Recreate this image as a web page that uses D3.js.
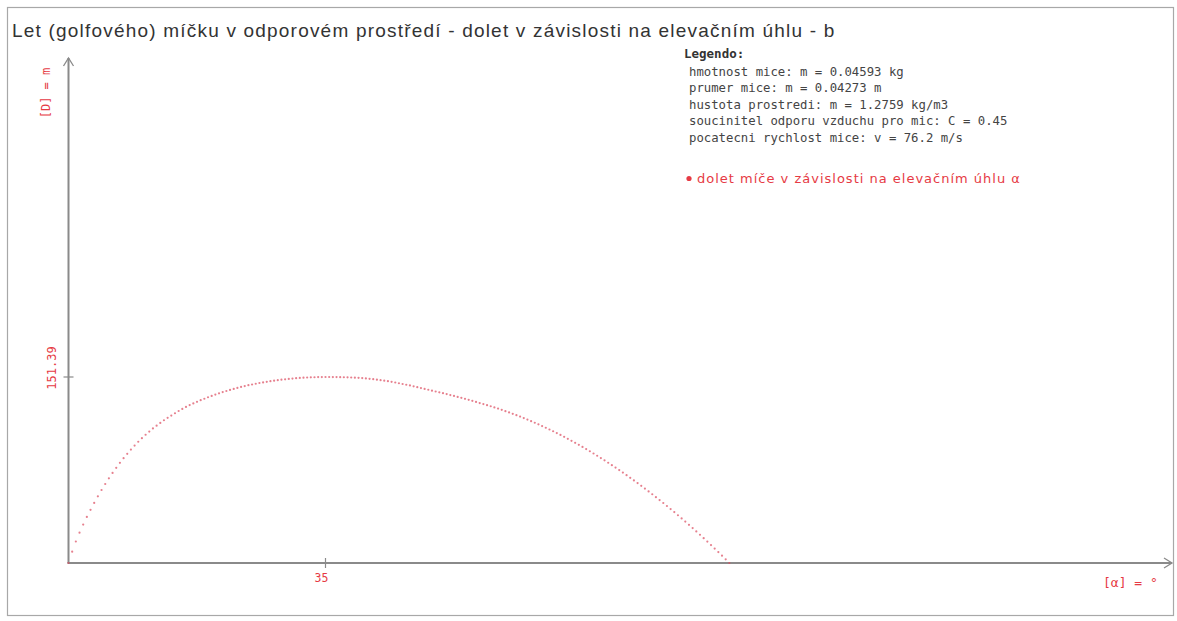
<!DOCTYPE html>
<html>
<head>
<meta charset="utf-8">
<script src="https://cdn.jsdelivr.net/npm/d3@7"></script>
<style>
  html, body { margin: 0; padding: 0; background: #fff; }
  svg { display: block; }
</style>
</head>
<body>
<script>
// Elevation angle grid (degrees), half-degree step
const angles = d3.range(0, 90.5, 0.5);

// Range of the ball D [m] for each elevation angle
const ranges = [
  // 0 .. 14
  0, 9.2, 17.5, 24.7, 31.3, 37.5, 43.3, 48.9, 54.3, 59.4,
  64.3, 68.9, 73.3, 77.5, 81.5, 85.3, 88.9, 92.3, 95.6, 98.7,
  101.6, 104.4, 107.0, 109.5, 111.8, 114.0, 116.2, 118.2, 120.0,
  // 14.5 .. 25
  121.9, 123.7, 125.4, 127.0, 128.5, 129.9, 131.2, 132.5, 133.7, 134.9,
  136.0, 137.1, 138.1, 139.1, 140.0, 140.9, 141.7, 142.5, 143.3, 144.0,
  144.7, 145.3,
  // 25.5 .. 35
  145.9, 146.5, 147.0, 147.5, 148.0, 148.4, 148.8, 149.2, 149.5, 149.8,
  150.1, 150.4, 150.6, 150.8, 151.0, 151.1, 151.2, 151.3, 151.36, 151.39,
  // 35.5 .. 56
  151.38, 151.35, 151.31, 151.25, 151.18, 151.10, 150.98, 150.85, 150.68, 150.5,
  150.2, 149.9, 149.6, 149.2, 148.8, 148.4, 148.0, 147.5, 146.9, 146.3,
  145.7, 145.1, 144.5, 143.8, 143.1, 142.4, 141.7, 141.0, 140.3, 139.6,
  138.9, 138.2, 137.5, 136.7, 136.0, 135.2, 134.4, 133.6, 132.8, 132.0,
  131.1, 130.2,
  // 56.5 .. 90
  129.35, 128.48, 127.57, 126.63, 125.65, 124.65, 123.61, 122.54, 121.44, 120.31,
  119.14, 117.94, 116.71, 115.45, 114.16, 112.84, 111.48, 110.09, 108.67, 107.22,
  105.74, 104.22, 102.67, 101.09, 99.48, 97.84, 96.16, 94.46, 92.72, 90.95,
  89.14, 87.31, 85.44, 83.54, 81.61, 79.65, 77.65, 75.63, 73.57, 71.48,
  69.36, 67.20, 65.02, 62.80, 60.55, 58.27, 55.96, 53.61, 51.23, 48.83,
  46.38, 43.91, 41.41, 38.87, 36.30, 33.70, 31.07, 28.40, 25.71, 22.98,
  20.22, 17.43, 14.60, 11.75, 8.86, 5.94, 2.99, 0
];

// Marked ticks
const xTicks = [35];
const yTicks = [151.39];
const yTickLabels = ["151.39"];

// Texts
const titleText = "Let (golfového) míčku v odporovém prostředí - dolet v závislosti na elevačním úhlu - b";
const legendHead = "Legendo:";
const legendLines = [
  "hmotnost mice: m = 0.04593 kg",
  "prumer mice: m = 0.04273 m",
  "hustota prostredi: m = 1.2759 kg/m3",
  "soucinitel odporu vzduchu pro mic: C = 0.45",
  "pocatecni rychlost mice: v = 76.2 m/s"
];
const seriesName = "dolet míče v závislosti na elevačním úhlu α";
const yAxisTitle = "[D] = m";
const xAxisTitle = "[α] = °";

const W = 1177, H = 621;
const RED = "#e63a44";
const AXIS = "#8a8a8a";
const MONO = "'DejaVu Sans Mono', 'Liberation Mono', monospace";

const svg = d3.select("body").append("svg")
  .attr("width", W).attr("height", H);

// outer frame
svg.append("rect")
  .attr("x", 7.5).attr("y", 7.5)
  .attr("width", 1166).attr("height", 608)
  .attr("fill", "#fff")
  .attr("stroke", "#a8a8a8").attr("stroke-width", 1.2);

// title
svg.append("text")
  .attr("x", 12).attr("y", 37)
  .attr("font-family", "'Liberation Sans', Arial, sans-serif")
  .attr("font-size", 19)
  .attr("letter-spacing", 1.2)
  .attr("fill", "#333")
  .text(titleText);

// scales
const x0 = 68.5, y0 = 563;
const x = d3.scaleLinear().domain([0, 35]).range([x0, 325.5]);
const y = d3.scaleLinear().domain([0, 151.39]).range([y0, 377]);

const gAxes = svg.append("g").attr("stroke", AXIS).attr("fill", "none");

// axis lines
gAxes.append("line").attr("x1", x0).attr("y1", y0).attr("x2", x0).attr("y2", 58)
  .attr("stroke-width", 2);
gAxes.append("line").attr("x1", x0 - 1).attr("y1", y0).attr("x2", 1172).attr("y2", y0)
  .attr("stroke-width", 2);

// arrow heads
gAxes.append("path").attr("d", `M${x0 - 5},${66} L${x0},${58} L${x0 + 5},${66}`)
  .attr("stroke-width", 1.3);
gAxes.append("path").attr("d", `M1164,${y0 - 5} L1172,${y0} L1164,${y0 + 5}`)
  .attr("stroke-width", 1.3);

// tick marks
gAxes.selectAll("line.xt").data(xTicks).enter().append("line")
  .attr("class", "xt")
  .attr("x1", d => x(d)).attr("x2", d => x(d))
  .attr("y1", y0 - 5).attr("y2", y0 + 5)
  .attr("stroke-width", 1.2);
gAxes.selectAll("line.yt").data(yTicks).enter().append("line")
  .attr("class", "yt")
  .attr("x1", x0 - 5).attr("x2", x0 + 5)
  .attr("y1", d => y(d)).attr("y2", d => y(d))
  .attr("stroke-width", 1.2);

// tick labels
svg.selectAll("text.xtl").data(xTicks).enter().append("text")
  .attr("class", "xtl")
  .attr("x", d => x(d) - 4).attr("y", 582)
  .attr("text-anchor", "middle")
  .attr("font-family", MONO).attr("font-size", 11.5)
  .attr("fill", RED)
  .text(d => d);
svg.selectAll("text.ytl").data(yTicks).enter().append("text")
  .attr("class", "ytl")
  .attr("transform", d => `translate(56,${y(d) - 9}) rotate(-90)`)
  .attr("text-anchor", "middle")
  .attr("font-family", MONO).attr("font-size", 12)
  .attr("fill", RED)
  .text((d, i) => yTickLabels[i]);

// axis titles
svg.append("text")
  .attr("transform", "translate(50,93) rotate(-90)")
  .attr("text-anchor", "middle")
  .attr("font-family", MONO).attr("font-size", 12)
  .attr("fill", RED)
  .text(yAxisTitle);
svg.append("text")
  .attr("x", 1103).attr("y", 587)
  .attr("font-family", MONO).attr("font-size", 13)
  .attr("fill", RED)
  .text(xAxisTitle);

// data points
svg.append("g").selectAll("circle").data(angles).enter().append("circle")
  .attr("cx", d => x(d))
  .attr("cy", (d, i) => y(ranges[i]))
  .attr("r", 1.1)
  .attr("fill", "#dc4a5e")
  .attr("fill-opacity", 0.7);

// legend
svg.append("text")
  .attr("x", 684).attr("y", 58)
  .attr("font-family", MONO).attr("font-size", 12.5)
  .attr("font-weight", "bold")
  .attr("fill", "#333")
  .text(legendHead);
svg.append("g").selectAll("text").data(legendLines).enter().append("text")
  .attr("x", 689)
  .attr("y", (d, i) => 75.5 + i * 16.6)
  .attr("font-family", MONO).attr("font-size", 12.3)
  .attr("fill", "#444")
  .text(d => d);

svg.append("circle")
  .attr("cx", 689).attr("cy", 178.5).attr("r", 2.6)
  .attr("fill", RED);
svg.append("text")
  .attr("x", 697).attr("y", 183)
  .attr("font-family", "'DejaVu Sans', Verdana, sans-serif")
  .attr("font-size", 13)
  .attr("letter-spacing", 1)
  .attr("fill", RED)
  .text(seriesName);
</script>
</body>
</html>
